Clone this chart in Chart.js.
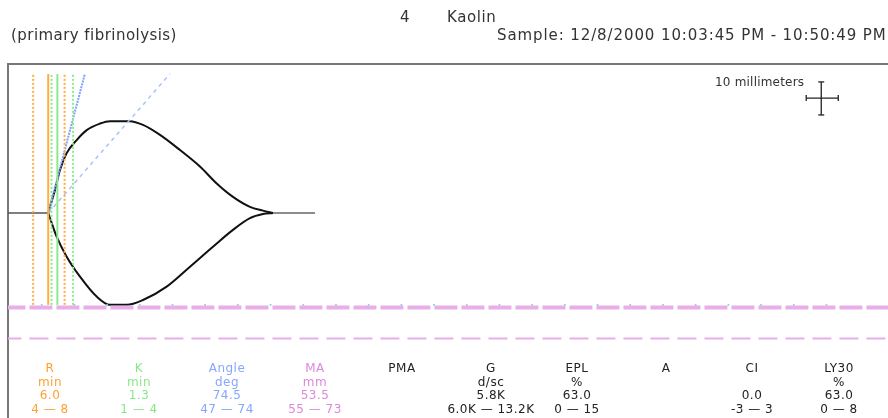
<!DOCTYPE html>
<html>
<head>
<meta charset="utf-8">
<script src="https://cdn.jsdelivr.net/npm/chart.js@4.4.1/dist/chart.umd.min.js"></script>
<style>
  html, body { margin: 0; padding: 0; background: #fff; }
  body { width: 888px; height: 418px; position: relative; overflow: hidden; font-family: "DejaVu Sans", Verdana, sans-serif; color: #222; }
  #teg { position: absolute; left: 0; top: 0; }
  .box { position: absolute; left: 7px; top: 63px; width: 900px; height: 400px; border-top: 2px solid #777; border-left: 2px solid #777; }
  .hdr { position: absolute; white-space: nowrap; font-size: 15px; color: #333; }
  .scale-label { position: absolute; left: 715px; top: 75px; font-size: 12px; letter-spacing: 0.2px; white-space: nowrap; color: #333; }
  .stat { position: absolute; top: 362px; width: 120px; margin-left: -60px; text-align: center; font-size: 12px; line-height: 13.7px; letter-spacing: 0.5px; white-space: nowrap; }
</style>
</head>
<body>
<div class="box"></div>
<canvas id="teg" width="888" height="418"></canvas>
<div class="hdr" style="left:400px; top:8px;">4</div>
<div class="hdr" style="left:447px; top:8px; letter-spacing:0.6px;">Kaolin</div>
<div class="hdr" style="left:11px; top:26px; letter-spacing:0.45px;">(primary fibrinolysis)</div>
<div class="hdr" style="left:497px; top:26px; letter-spacing:0.9px;">Sample: 12/8/2000 10:03:45 PM - 10:50:49 PM</div>
<div class="scale-label">10 millimeters</div>
<div id="stats"></div>

<script>
// TEG tracing, time in minutes, amplitude in mm (half deflection, + up / - down)

// upper branch of the tracing
const upperTime = [6.0, 6.27, 7.03, 7.80, 8.82, 10.35, 11.88, 13.91, 15.44, 18.5, 20.49, 23.09, 26.15, 29.2, 31.76, 34.25, 36.85, 38.84, 40.37];
const upperAmp  = [0, 1.8, 6.7, 12.5, 17.4, 21.2, 24.1, 26.0, 26.7, 26.7, 25.6, 22.7, 18.3, 13.5, 8.6, 4.7, 1.8, 0.7, 0];

// lower branch of the tracing
const lowerTime = [6.0, 6.27, 7.29, 8.82, 10.86, 13.41, 15.44, 18.0, 20.49, 24.11, 27.68, 31.19, 34.25, 36.85, 38.84, 40.37];
const lowerAmp  = [0, -1.45, -6.9, -12.7, -18.5, -24.3, -26.7, -26.7, -25.3, -21.4, -15.6, -9.8, -4.9, -1.5, -0.3, 0];

// flat line before clotting and after lysis
const leadTime = [-0.15, 6.0];
const tailTime = [40.37, 46.8];

// R and K markers (min): lower limit, value, upper limit
const rMarks = [3.7, 6.0, 8.5];
const kMarks = [6.5, 7.4, 9.8];
const markTop = 40.4;
const markBottom = -26.7;

// angle lines from R point to top of grid (time at top)
const angleTopTime = [11.6, 24.6];

// MA normal range (mm full width) -> drawn at half width below baseline
const maRange = [55, 73];

// 5 minute tick dots along MA lower limit
const tickTimes = [5, 10, 15, 20, 25, 30, 35, 40, 45, 50, 55, 60, 65, 70, 75, 80, 85, 90, 95, 100, 105, 110, 115, 120, 125];

// 10 mm scale cross
const crossTime = [121.9, 124.2, 126.8];
const crossAmp = [28.5, 33.4, 38.1];

// parameter table
const statNames  = ['R', 'K', 'Angle', 'MA', 'PMA', 'G', 'EPL', 'A', 'CI', 'LY30'];
const statUnits  = ['min', 'min', 'deg', 'mm', '', 'd/sc', '%', '', '', '%'];
const statValues = ['6.0', '1.3', '74.5', '53.5', '', '5.8K', '63.0', '', '0.0', '63.0'];
const statRanges = ['4 — 8', '1 — 4', '47 — 74', '55 — 73', '', '6.0K — 13.2K', '0 — 15', '', '-3 — 3', '0 — 8'];
const statColors = ['#ffa032', '#88e888', '#86a6ff', '#dd88dd', '#222', '#222', '#222', '#222', '#222', '#222'];
const statCenters = [50, 139, 227, 315, 402, 491, 577, 666, 752, 839];

const ORANGE = '#ffac45';
const GREEN = '#8ee88e';
const BLUE = '#7aa0ff';
const PINK = '#e8aee8';

function pts(xs, ys) {
    return xs.map((x, i) => ({ x: x, y: ys[i] }));
}

function vline(t, color, dotted) {
    return {
        data: [{ x: t, y: markBottom }, { x: t, y: markTop }],
        borderColor: color,
        borderWidth: 2,
        borderDash: dotted ? [2, 2] : [],
        pointRadius: 0,
        tension: 0
    };
}

function buildDatasets() {
    const sets = [];

    // R markers: dotted limits, solid value
    sets.push(vline(rMarks[0], ORANGE, true));
    sets.push(vline(rMarks[1], ORANGE, false));
    sets.push(vline(rMarks[2], ORANGE, true));
    // K markers
    sets.push(vline(kMarks[0], GREEN, true));
    sets.push(vline(kMarks[1], GREEN, false));
    sets.push(vline(kMarks[2], GREEN, true));

    // angle lines
    sets.push({
        data: [{ x: rMarks[1], y: 0 }, { x: angleTopTime[0], y: markTop }],
        borderColor: BLUE, borderWidth: 2, borderDash: [2, 1], pointRadius: 0, tension: 0
    });
    sets.push({
        data: [{ x: rMarks[1], y: 0 }, { x: angleTopTime[1], y: markTop }],
        borderColor: '#a8c2ff', borderWidth: 1.5, borderDash: [4, 4], pointRadius: 0, tension: 0
    });

    // MA limits
    sets.push({
        data: [{ x: -1, y: -maRange[0] / 2 }, { x: 200, y: -maRange[0] / 2 }],
        borderColor: PINK, borderWidth: 4, borderDash: [23, 4], pointRadius: 0, tension: 0
    });
    sets.push({
        data: [{ x: -1, y: -maRange[1] / 2 }, { x: 200, y: -maRange[1] / 2 }],
        borderColor: PINK, borderWidth: 2, borderDash: [19, 8], pointRadius: 0, tension: 0
    });

    // time ticks
    sets.push({
        data: tickTimes.map(t => ({ x: t, y: -maRange[0] / 2 + 0.8 })),
        showLine: false,
        pointStyle: 'rect',
        pointRadius: 1.2,
        backgroundColor: '#8cc8ee',
        borderWidth: 0
    });

    // tracing
    sets.push({
        data: pts(leadTime, [0, 0]),
        borderColor: '#555', borderWidth: 1.5, pointRadius: 0, tension: 0
    });
    sets.push({
        data: pts(tailTime, [0, 0]),
        borderColor: '#666', borderWidth: 1.5, pointRadius: 0, tension: 0
    });
    sets.push({
        data: pts(upperTime, upperAmp),
        borderColor: '#111', borderWidth: 2, pointRadius: 0, cubicInterpolationMode: 'monotone'
    });
    sets.push({
        data: pts(lowerTime, lowerAmp),
        borderColor: '#111', borderWidth: 2, pointRadius: 0, cubicInterpolationMode: 'monotone'
    });

    // scale cross
    sets.push({
        data: [{ x: crossTime[1], y: crossAmp[0] }, { x: crossTime[1], y: crossAmp[2] }],
        borderColor: '#222', borderWidth: 1.3, pointStyle: 'line', pointRadius: 3,
        pointBorderColor: '#222', pointBorderWidth: 1.3, tension: 0
    });
    sets.push({
        data: [{ x: crossTime[0], y: crossAmp[1] }, { x: crossTime[2], y: crossAmp[1] }],
        borderColor: '#222', borderWidth: 1.3, pointStyle: 'line', pointRotation: 90, pointRadius: 3,
        pointBorderColor: '#222', pointBorderWidth: 1.3, tension: 0
    });

    return sets;
}

function initTegChart() {
    new Chart(document.getElementById('teg'), {
        type: 'scatter',
        data: { datasets: buildDatasets().map(d => Object.assign({ showLine: true, fill: false }, d)) },
        options: {
            responsive: false,
            animation: false,
            devicePixelRatio: 1,
            layout: { autoPadding: false, padding: { left: 8, top: 64, right: 0, bottom: 0 } },
            scales: {
                x: { type: 'linear', display: false, min: -0.15, max: -0.15 + 880 / 6.54 },
                y: { type: 'linear', display: false, min: -(418 - 213) / 3.44, max: (213 - 64) / 3.44 }
            },
            plugins: {
                legend: { display: false },
                tooltip: { enabled: false }
            }
        }
    });
}

function initStats() {
    const holder = document.getElementById('stats');
    statNames.forEach((name, i) => {
        const cell = document.createElement('div');
        cell.className = 'stat';
        cell.style.left = statCenters[i] + 'px';
        cell.style.color = statColors[i];
        cell.innerHTML = [name, statUnits[i], statValues[i], statRanges[i]]
            .map(s => '<div>' + (s || '&nbsp;') + '</div>').join('');
        holder.appendChild(cell);
    });
}

document.addEventListener('DOMContentLoaded', function() {
    initTegChart();
    initStats();
});
</script>
</body>
</html>
